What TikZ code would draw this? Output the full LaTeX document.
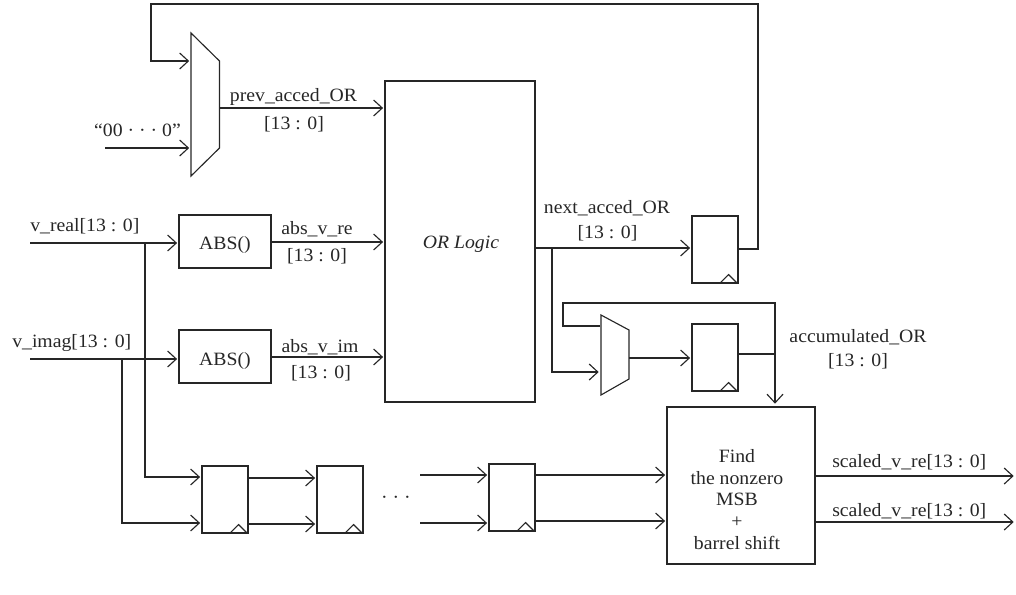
\documentclass[tikz,border=0pt]{standalone}
\usepackage{fontspec}
\setmainfont[FakeStretch=1.05]{Liberation Serif}
\usetikzlibrary{arrows.meta,calc}
\tikzset{
  ln/.style={draw=black!85,line width=0.85pt,line join=miter},
  arr/.style={ln,-{Straight Barb[length=6.5pt,width=12pt,line width=0.85pt]},shorten >=1pt},
  box/.style={ln,inner sep=0pt,anchor=center},
  reg/.style={box,minimum width=34.5pt,minimum height=50.25pt},
  absb/.style={box,minimum width=69pt,minimum height=39.75pt},
  lbl/.style={inner sep=0pt,text=black!85,font=\fontsize{14.1pt}{16pt}\selectfont},
  lbll/.style={lbl,anchor=base west},
  lblc/.style={lbl,anchor=base}
}
\newcommand{\clk}[1]{\draw[ln] ($(#1.south east)+(-19,0)$) -- +(9,-9) -- +(18,0);}
\begin{document}
\begin{tikzpicture}[x=0.75pt,y=-0.75pt]
\useasboundingbox (0,0) rectangle (1016,594);
% boxes
\node[box,minimum width=112.5pt,minimum height=240.75pt] (orl) at (460,241.5) {};
\node[lblc] at (461,248) {\itshape OR Logic};
\node[absb] (abs1) at (225,241.5) {};
\node[lblc] at (225,249) {ABS()};
\node[absb] (abs2) at (225,356.5) {};
\node[lblc] at (225,365) {ABS()};
\node[reg] (r1) at (715,249.5) {};
\node[reg] (r2) at (715,357.5) {};
\node[reg] (ra) at (225,499.5) {};
\node[reg] (rb) at (340,499.5) {};
\node[reg] (rc) at (512,497.5) {};
\clk{r1}\clk{r2}\clk{ra}\clk{rb}\clk{rc}
\node[box,minimum width=111pt,minimum height=117.75pt] (big) at (741,485.5) {};
% multiplexers
\coordinate (m1a) at (191,33); \coordinate (m1b) at (219.5,61);
\coordinate (m1c) at (219.5,148); \coordinate (m1d) at (191,176);
\draw[ln] (m1a) -- (m1b) -- (m1c) -- (m1d) -- cycle;
\coordinate (m2a) at (601,315); \coordinate (m2b) at (629,330);
\coordinate (m2c) at (629,379); \coordinate (m2d) at (601,395);
\draw[ln] (m2a) -- (m2b) -- (m2c) -- (m2d) -- cycle;
% free ends and junctions
\coordinate (vre) at (30,243); \coordinate (vim) at (30,359);
\coordinate (zero) at (105,148);
\coordinate (jre) at (145,243); \coordinate (jim) at (122,359);
\coordinate (orout) at (535,248); \coordinate (jnext) at (552,248);
\coordinate (dotsa) at (420,475); \coordinate (dotsb) at (420,523);
\coordinate (o1) at (1015,476); \coordinate (o2) at (1015,522);
\coordinate (accj) at (775,354);
% top mux
\draw[arr] (r1.east |- 0,249) -- (758,249) -- (758,4) -- (151,4) -- (151,61) -- (190.5,61);
\draw[arr] (zero) -- (190.5,148);
\draw[arr] (219.5,108) -- (orl.west |- 0,108);
% inputs
\draw[arr] (vre) -- (abs1.west |- vre);
\draw[arr] (vim) -- (abs2.west |- vim);
\draw[arr] (abs1.east |- 0,242) -- (orl.west |- 0,242);
\draw[arr] (abs2.east |- 0,357) -- (orl.west |- 0,357);
\draw[arr] (jre) -- (145,477) -- (ra.west |- 0,477);
\draw[arr] (jim) -- (122,523) -- (ra.west |- 0,523);
% delay line
\draw[arr] (ra.east |- 0,478) -- (rb.west |- 0,478);
\draw[arr] (ra.east |- 0,524) -- (rb.west |- 0,524);
\draw[arr] (dotsa) -- (rc.west |- dotsa);
\draw[arr] (dotsb) -- (rc.west |- dotsb);
\draw[arr] (rc.east |- 0,475) -- (big.west |- 0,475);
\draw[arr] (rc.east |- 0,521) -- (big.west |- 0,521);
% next / accumulated
\draw[arr] (orout) -- (r1.west |- orout);
\draw[arr] (jnext) -- (552,372) -- (600,372);
\draw[arr] (629,358) -- (r2.west |- 0,358);
\draw[ln] (r2.east |- accj) -- (accj);
\draw[arr] (600,326) -- (563,326) -- (563,303) -- (775,303) -- (775,405);
\draw[arr] (big.east |- o1) -- (o1);
\draw[arr] (big.east |- o2) -- (o2);
% labels
\node[lbll] at (30,231) {v\_real[13 : 0]};
\node[lbll] at (12,347) {v\_imag[13 : 0]};
\node[lblc] at (137.5,136) {“00 · · · 0”};
\node[lblc] at (293.5,101) {prev\_acced\_OR};
\node[lblc] at (294,129) {[13 : 0]};
\node[lblc] at (317,234) {abs\_v\_re};
\node[lblc] at (317,261) {[13 : 0]};
\node[lblc] at (320,352) {abs\_v\_im};
\node[lblc] at (321,378) {[13 : 0]};
\node[lblc] at (607,213) {next\_acced\_OR};
\node[lblc] at (607.5,238) {[13 : 0]};
\node[lblc] at (858,342) {accumulated\_OR};
\node[lblc] at (858,366) {[13 : 0]};
\node[lblc] at (396,503) {· · ·};
\node[lblc] at (737,462) {Find};
\node[lblc] at (737,484) {the nonzero};
\node[lblc] at (737,505) {MSB};
\node[lblc] at (737,527) {+};
\node[lblc] at (737,549) {barrel shift};
\node[lbll] at (832,467) {scaled\_v\_re[13 : 0]};
\node[lbll] at (832,516) {scaled\_v\_re[13 : 0]};
\end{tikzpicture}
\end{document}
